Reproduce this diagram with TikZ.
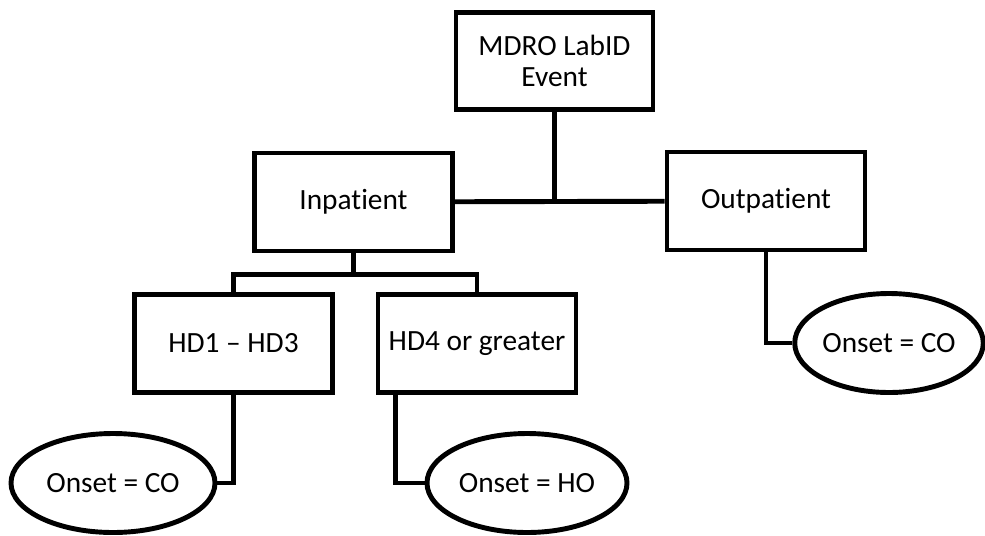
\documentclass[tikz,border=0pt]{standalone}
\usepackage{fontspec}
\setmainfont{Carlito}[Ligatures=NoCommon]
\usetikzlibrary{shapes}
\usetikzlibrary{shapes.geometric}
\usetikzlibrary{positioning}
\tikzset{
    mybox/.style = {rectangle, line width=2.8pt, draw=black, align=center, minimum width=3.96cm, minimum height=1.96cm, inner sep=0pt, fill=white},
    myoval/.style = {ellipse, line width=2.8pt, draw=black, align=center, minimum width=4.0cm, minimum height=1.98cm, inner sep=0pt, fill=white},
    edgen/.style = {line width=2.8pt, draw=black},
    every picture/.style={font issue=\fontsize{16.7}{17.5}},
    font issue/.style={execute at begin picture={#1\selectfont}
  }
}

\begin{document}
\begin{tikzpicture}
  \useasboundingbox (0,0) rectangle (19.7,10.7);

\node[mybox, minimum width=3.94cm, minimum height=1.94cm] at (11.09, 9.48) (event) {MDRO LabID\\Event};
\node[mybox] at ( 7.07, 6.66) (inpat)  {Inpatient};
\node[mybox] at (15.32, 6.68) (outpat) {Outpatient};
\node[mybox] at ( 4.67, 3.83) (hdlow)  {HD1 – HD3};
\node[mybox] at ( 9.54, 3.83) (hdhigh) {HD4 or greater};

\node[myoval, minimum width=4.08cm] at ( 2.26, 1.04) (colow) {Onset = CO};
\node[myoval] at (10.54, 1.04) (hohigh) {Onset = HO};
\node[myoval, minimum width=3.76cm] at (17.78, 3.84) (coout) {Onset = CO};

  % top level
  \draw[edgen] (inpat) -- (outpat);
  \draw[edgen] (event) -- (event |- inpat);

  % inpatient branch
  \draw[edgen] (inpat.south) -- ++(0,-0.42) coordinate (ibranch);
  \draw[edgen] (hdlow.north) |- (ibranch) -| (hdhigh.north);

  % onset leaves
  \draw[edgen] (hdlow.south) |- (colow.east);
  \draw[edgen] ([xshift=0.4cm]hdhigh.south west) |- (hohigh.west);
  \draw[edgen] (outpat.south) |- (coout.west);

 \end{tikzpicture}
\end{document}
